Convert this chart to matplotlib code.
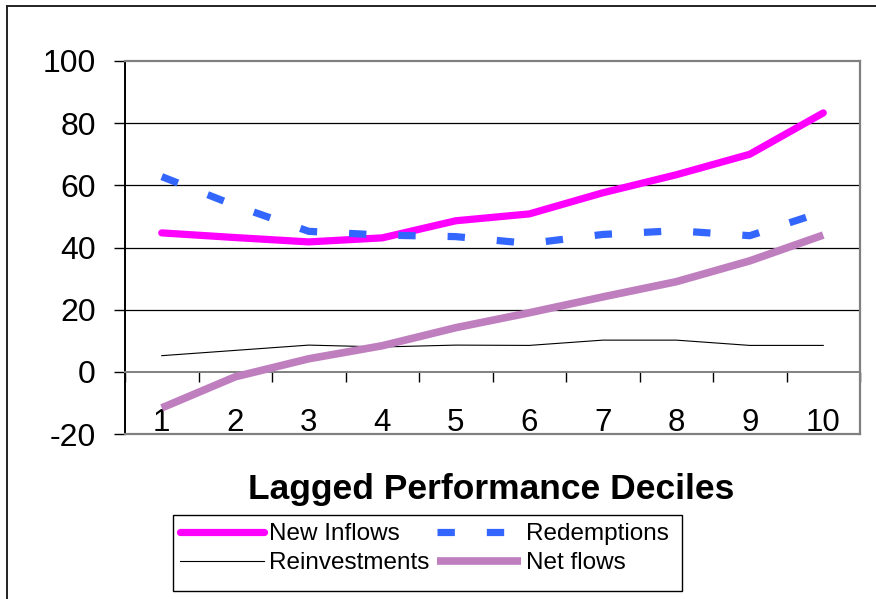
import matplotlib
matplotlib.use("Agg")
import matplotlib.pyplot as plt
from matplotlib.lines import Line2D
from matplotlib.patches import Rectangle

plt.rcParams['font.family'] = ['Liberation Sans', 'DejaVu Sans']
plt.rcParams['lines.scale_dashes'] = False

# ---- data ----
deciles = [1, 2, 3, 4, 5, 6, 7, 8, 9, 10]
tick_labels = ['1', '2', '3', '4', '5', '6', '7', '8', '9', '10']
new_inflows = [44.7, 43.2, 41.8, 43.1, 48.6, 50.8, 57.6, 63.4, 70.0, 83.3]
redemptions = [62.8, 53.5, 45.2, 44.0, 43.5, 41.3, 44.2, 45.4, 43.8, 51.5]
reinvestments = [5.2, 6.9, 8.6, 8.0, 8.6, 8.5, 10.2, 10.2, 8.5, 8.5]
net_flows = [-11.6, -1.6, 4.2, 8.4, 14.2, 19.0, 24.1, 29.0, 35.7, 44.0]
y_ticks = [-20, 0, 20, 40, 60, 80, 100]
series_names = ['New Inflows', 'Redemptions', 'Reinvestments', 'Net flows']
xlabel_text = 'Lagged Performance Deciles'

W, H = 876, 599
fig = plt.figure(figsize=(W / 100, H / 100), dpi=100)
fig.patch.set_facecolor('white')

ax = fig.add_axes([125 / W, (H - 434) / H, 735 / W, 373 / H])
ax.set_xlim(0.5, 10.5)
ax.set_ylim(-20, 100)

# grid lines
for v in [20, 40, 60, 80]:
    ax.axhline(v, color='black', lw=0.9, zorder=1)

l1, = ax.plot(deciles, new_inflows, color='#FF00FF', lw=5.2,
              solid_capstyle='round', solid_joinstyle='round', zorder=3,
              label=series_names[0])
l2, = ax.plot(deciles, redemptions, color='#3366FF', lw=5.2,
              dashes=(12.5, 23), dash_capstyle='butt', zorder=3,
              label=series_names[1])
l3, = ax.plot(deciles, reinvestments, color='black', lw=0.8, zorder=3,
              label=series_names[2])
l4, = ax.plot(deciles, net_flows, color='#BF7FBF', lw=5.5,
              solid_capstyle='butt', zorder=3, label=series_names[3])

# spines
for s in ['top', 'right']:
    ax.spines[s].set_color('#808080')
    ax.spines[s].set_linewidth(1.6)
ax.spines['left'].set_color('black')
ax.spines['left'].set_linewidth(1.4)
ax.spines['bottom'].set_position(('data', 0))
ax.spines['bottom'].set_color('#808080')
ax.spines['bottom'].set_linewidth(1.4)
ax.axhline(-20, color='#808080', lw=1.6, clip_on=False, zorder=5)

# y ticks
ax.set_yticks(y_ticks)
ax.set_yticklabels([str(v) for v in y_ticks])
ax.tick_params(axis='y', direction='out', length=8, width=1, color='black',
               pad=13, labelsize=23)

# x ticks: marks at category boundaries, labels at centers
ax.set_xticks([i + 0.5 for i in range(0, 11)])
ax.set_xticklabels([])
ax.tick_params(axis='x', which='major', direction='out', length=7, width=1,
               color='black')
ax.set_xticks(deciles, minor=True)
ax.set_xticklabels(tick_labels, minor=True)
ax.tick_params(axis='x', which='minor', length=0, pad=26, labelsize=22.5)

# x-axis title
fig.text(491 / W, 1 - 490 / H, xlabel_text, ha='center', va='center',
         fontsize=25.5, fontweight='bold')

# legend (two columns as two legends), frame drawn separately
fs = 17.5
fpx = fs * 100 / 72
leg_kw = dict(frameon=False, borderpad=0, borderaxespad=0,
              handlelength=84 / fpx, handletextpad=5 / fpx,
              labelspacing=0.3, loc='upper left',
              prop={'size': fs})
leg1 = fig.legend([l1, l3], [series_names[0], series_names[2]],
                  bbox_to_anchor=(180 / W, 1 - 523 / H), **leg_kw)
leg2 = fig.legend([l2, l4], [series_names[1], series_names[3]],
                  bbox_to_anchor=(437 / W, 1 - 523 / H), **leg_kw)
fig.add_artist(Rectangle((173 / W, 1 - 591 / H), (682 - 173) / W,
                         (591 - 515) / H, transform=fig.transFigure,
                         fill=False, edgecolor='black', lw=1.0))

# outer chart border (top and left visible)
fig.add_artist(Line2D([7 / W, 1.0], [1 - 6 / H, 1 - 6 / H],
                      transform=fig.transFigure, color='#222222', lw=1.4))
fig.add_artist(Line2D([7 / W, 7 / W], [0.0, 1 - 6 / H],
                      transform=fig.transFigure, color='#222222', lw=1.4))

fig.savefig('out.png', dpi=100, facecolor='white')
